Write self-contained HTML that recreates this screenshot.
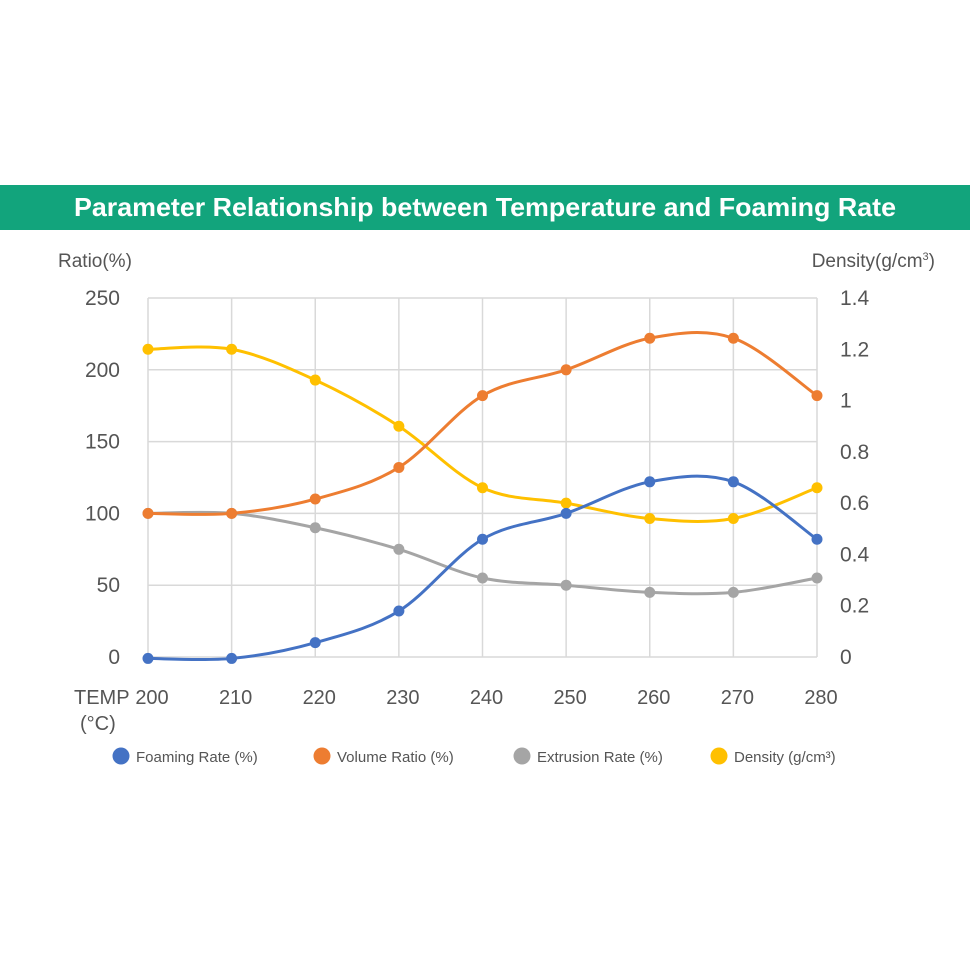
<!DOCTYPE html>
<html><head><meta charset="utf-8"><style>
html,body{margin:0;padding:0;background:#fff;width:970px;height:970px;overflow:hidden}
svg{display:block}
text{font-family:"Liberation Sans",sans-serif;fill:#555}
</style></head><body>
<svg id="s" width="970" height="970" viewBox="0 0 970 970" xmlns="http://www.w3.org/2000/svg">
<rect x="0" y="185" width="970" height="45" fill="#12a47c"/>
<text x="485" y="216" text-anchor="middle" textLength="822" lengthAdjust="spacingAndGlyphs" style="font-size:26px;font-weight:bold;fill:#fff">Parameter Relationship between Temperature and Foaming Rate</text>
<text x="58" y="267" style="font-size:19px">Ratio(%)</text>
<text x="935" y="267" text-anchor="end" style="font-size:19px">Density(g/cm<tspan dy="-7" style="font-size:11px">3</tspan><tspan dy="7">)</tspan></text>
<g id="grid" stroke="#d9d9d9" stroke-width="1.5" fill="none"></g>
<g id="lab"></g>
<g id="ser"></g>
<g id="leg"></g>
</svg>
<script>
const NS="http://www.w3.org/2000/svg";
function el(p,t,a,txt){const e=document.createElementNS(NS,t);for(const k in a)e.setAttribute(k,a[k]);if(txt!==undefined)e.textContent=txt;document.getElementById(p).appendChild(e);return e;}
const x0=148,x1=817,yT=298,yB=657;
const X=i=>x0+(x1-x0)*i/8, Y=v=>yB-(yB-yT)*v/250, YD=v=>yB-(yB-yT)*v/1.4;
for(let i=0;i<=8;i++){el('grid','line',{x1:X(i),y1:yT,x2:X(i),y2:yB});
 el('lab','text',{x:X(i)+4,y:704,'text-anchor':'middle',style:'font-size:20px'},200+10*i);}
for(let v=0;v<=250;v+=50){el('grid','line',{x1:x0,y1:Y(v),x2:x1,y2:Y(v)});
 el('lab','text',{x:120,y:Y(v)+7,'text-anchor':'end',style:'font-size:21px'},v);}
[0,0.2,0.4,0.6,0.8,1,1.2,1.4].forEach(v=>el('lab','text',{x:840,y:YD(v)+7,style:'font-size:21px'},v===1?'1':String(v)));
el('lab','text',{x:74,y:704,style:'font-size:20px'},'TEMP');
el('lab','text',{x:80,y:730,style:'font-size:20px'},'(°C)');
const S=[
 ['#ffc000',[1.2,1.2,1.08,0.9,0.66,0.6,0.54,0.54,0.66].map(YD)],
 ['#a5a5a5',[100,100,90,75,55,50,45,45,55].map(Y)],
 ['#ed7d31',[100,100,110,132,182,200,222,222,182].map(Y)],
 ['#4472c4',[-1,-1,10,32,82,100,122,122,82].map(Y)]];
S.forEach(([c,ys])=>{
 const p=ys.map((y,i)=>[X(i),y]);let d='M'+p[0];
 for(let i=0;i<p.length-1;i++){const a=p[Math.max(i-1,0)],b=p[i],q=p[i+1],r=p[Math.min(i+2,p.length-1)];
  const t=6;d+=` C${b[0]+(q[0]-a[0])/t},${b[1]+(q[1]-a[1])/t} ${q[0]-(r[0]-b[0])/t},${q[1]-(r[1]-b[1])/t} ${q[0]},${q[1]}`;}
 el('ser','path',{d:d,stroke:c,'stroke-width':3,fill:'none'});
 p.forEach(pt=>el('ser','circle',{cx:pt[0],cy:pt[1],r:5.5,fill:c}));
});
const L=[['#4472c4',112,'Foaming Rate (%)'],['#ed7d31',313,'Volume Ratio (%)'],['#a5a5a5',513,'Extrusion Rate (%)'],['#ffc000',710,'Density (g/cm³)']];
L.forEach(([c,x,t])=>{el('leg','circle',{cx:x+9,cy:756,r:8.5,fill:c});el('leg','text',{x:x+24,y:762,style:'font-size:15px'},t);});
</script>
</body></html>
